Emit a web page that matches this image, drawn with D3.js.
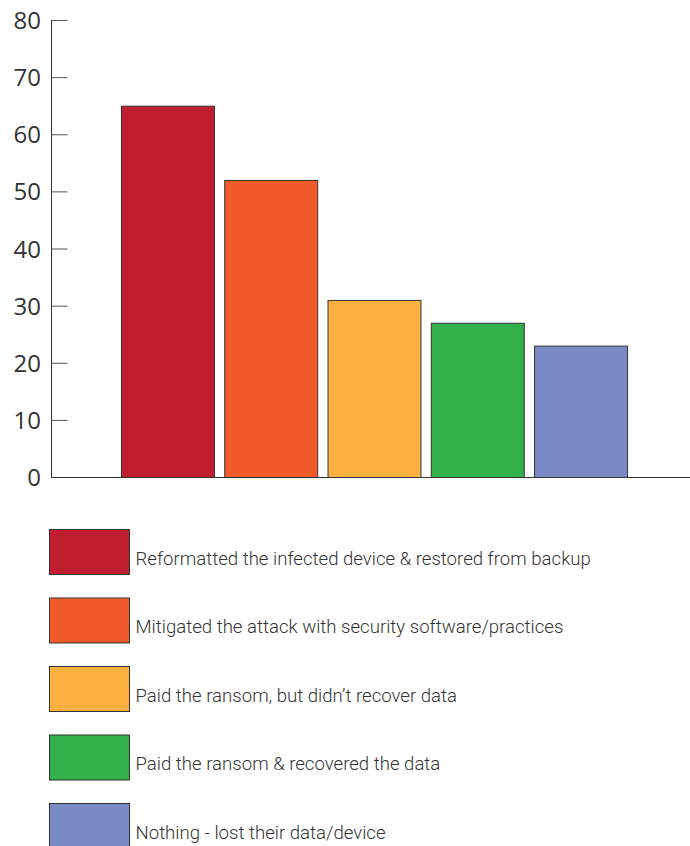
<!DOCTYPE html>
<html><head><meta charset="utf-8">
<script src="https://cdn.jsdelivr.net/npm/d3@7"></script>
<style>body{margin:0;background:#fff}svg{display:block}</style>
</head><body>
<script>
const categories = [
  "Reformatted the infected device & restored from backup",
  "Mitigated the attack with security software/practices",
  "Paid the ransom, but didn\u2019t recover data",
  "Paid the ransom & recovered the data",
  "Nothing - lost their data/device"
];
const values = [65, 52, 31, 27, 23];
const colors = ["#BE1E2D", "#F15A29", "#FBB040", "#32B04A", "#7A8BC6"];
const yTicks = [0, 10, 20, 30, 40, 50, 60, 70, 80];

const W = 690, H = 846;
const svg = d3.select("body").append("svg").attr("width", W).attr("height", H);

const y = d3.scaleLinear().domain([0, 80]).range([477, 20]);
const x = d3.scaleBand().domain(categories).range([115.8, 632.2]).paddingInner(0.1).paddingOuter(0.05);

// bars
svg.selectAll("rect.bar").data(values).join("rect")
  .attr("class", "bar")
  .attr("x", (d, i) => x(categories[i]) + 0.5)
  .attr("y", d => y(d) + 0.5)
  .attr("width", x.bandwidth())
  .attr("height", d => y(0) - y(d))
  .attr("fill", (d, i) => colors[i])
  .attr("stroke", "#333")
  .attr("stroke-width", 1);

// y axis
const yAxis = d3.axisRight(y).tickValues(yTicks).tickSize(16).tickFormat("");
const gy = svg.append("g").attr("transform", "translate(51.5,0)").call(yAxis);
gy.select(".domain").attr("stroke", "#333").attr("d", `M0,${y(80)}V${y(0)}`);
gy.selectAll(".tick line").attr("stroke", "#555");
svg.append("g").selectAll("text").data(yTicks).join("text")
  .attr("x", 41).attr("y", d => y(d) + 9)
  .attr("text-anchor", "end")
  .attr("font-family", "Open Sans, sans-serif")
  .attr("font-size", 24)
  .attr("fill", "#333")
  .text(d => d);

// x baseline
svg.append("line").attr("x1", 51).attr("x2", 690).attr("y1", y(0) + 0.5).attr("y2", y(0) + 0.5)
  .attr("stroke", "#333").attr("stroke-width", 1.2);

// legend
const lg = svg.append("g");
const legY = d3.scaleLinear().domain([0, 1]).range([529, 597.5]);
const items = lg.selectAll("g").data(categories).join("g")
  .attr("transform", (d, i) => `translate(49.5,${legY(i) + 0.5})`);
items.append("rect").attr("width", 80).attr("height", 45)
  .attr("fill", (d, i) => colors[i]).attr("stroke", "#333").attr("stroke-width", 1);
items.append("text").attr("x", 86).attr("y", 35)
  .attr("font-family", "Roboto, sans-serif").attr("font-weight", 300)
  .attr("font-size", 18.6).attr("fill", "#333")
  .text(d => d);
</script>
</body></html>
